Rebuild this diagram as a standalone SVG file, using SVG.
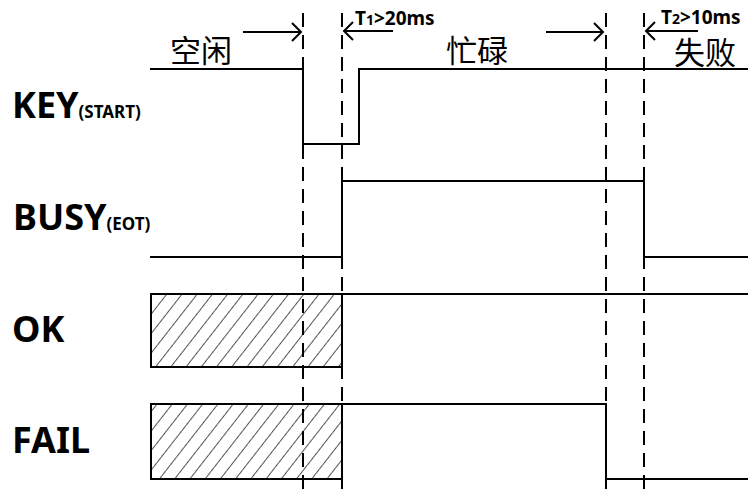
<svg xmlns="http://www.w3.org/2000/svg" width="748" height="493" viewBox="0 0 748 493">
<style>
.sig{fill:none;stroke:#000;stroke-width:2}
.dash{fill:none;stroke:#000;stroke-width:2;stroke-dasharray:14 8}
.arr{fill:none;stroke:#000;stroke-width:2;marker-end:url(#head)}
.lbl{font-family:"Noto Sans","Open Sans","Liberation Sans",sans-serif;font-weight:bold;font-size:36px;fill:#000}
.sub{font-size:17px}
.tm{font-family:"Noto Sans","Open Sans","Liberation Sans",sans-serif;font-weight:bold;font-size:19px;fill:#000}
.tsub{font-size:14px}
.cn{font-family:"Noto Sans CJK SC","Noto Sans",sans-serif;font-size:31px;fill:#000}
.hbox{fill:url(#hatch);stroke:#000;stroke-width:2}
</style>
<defs>
<marker id="head" markerUnits="userSpaceOnUse" markerWidth="14" markerHeight="22" refX="10" refY="10" orient="auto-start-reverse">
<path d="M1,1 L10,10 L1,19" fill="none" stroke="#000" stroke-width="2"/>
</marker>
<pattern id="hatch" patternUnits="userSpaceOnUse" width="12" height="12" patternTransform="rotate(-52)">
<rect width="12" height="12" fill="#fff"/>
<line x1="0" y1="0" x2="12" y2="0" stroke="#2a2a2a" stroke-width="1.6"/>
</pattern>
</defs>
<rect width="748" height="493" fill="#fff"/>

<g id="key">
<text class="lbl" x="12" y="118">KEY<tspan class="sub">(START)</tspan></text>
<polyline class="sig" points="150,69 303,69 303,144 359,144 359,69 748,69"/>
</g>
<g id="busy">
<text class="lbl" x="13" y="230">BUSY<tspan class="sub">(EOT)</tspan></text>
<polyline class="sig" points="150,257 342,257 342,181 644,181 644,257 748,257"/>
</g>
<g id="ok">
<text class="lbl" x="12" y="342">OK</text>
<rect class="hbox" x="151" y="294" width="191" height="73"/>
<line class="sig" x1="342" y1="294" x2="748" y2="294"/>
</g>
<g id="fail">
<text class="lbl" x="12" y="453">FAIL</text>
<rect class="hbox" x="151" y="404" width="191" height="75"/>
<polyline class="sig" points="342,404 606,404 606,479 748,479"/>
</g>
<g id="phase-labels">
<text class="cn" x="170" y="62">空闲</text>
<text class="cn" x="446" y="62">忙碌</text>
<text class="cn" x="674" y="64">失败</text>
<text class="tm" x="355" y="25">T<tspan class="tsub">1</tspan>&gt;20ms</text>
<text class="tm" x="661" y="24">T<tspan class="tsub">2</tspan>&gt;10ms</text>
</g>
<g id="connectors">
<line class="dash" x1="303" y1="13" x2="303" y2="493"/>
<line class="dash" x1="342" y1="13" x2="342" y2="493"/>
<line class="dash" x1="606" y1="13" x2="606" y2="493"/>
<line class="dash" x1="644" y1="13" x2="644" y2="493"/>
<line class="arr" x1="243" y1="32" x2="301" y2="32"/>
<line class="arr" x1="546" y1="32" x2="603" y2="32"/>
<line class="arr" x1="393" y1="31" x2="344" y2="31"/>
<line class="arr" x1="698" y1="31" x2="646" y2="31"/>
</g>
</svg>
